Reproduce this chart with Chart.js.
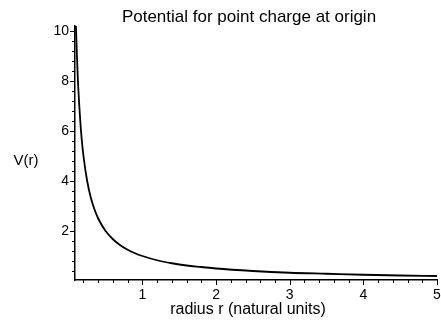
<!DOCTYPE html>
<html>
<head>
<meta charset="utf-8">
<script src="https://cdn.jsdelivr.net/npm/chart.js@4/dist/chart.umd.min.js"></script>
<style>
  html, body { margin: 0; padding: 0; background: #fff; }
  #wrap { width: 441px; height: 320px; }
</style>
</head>
<body>
<div id="wrap"><canvas id="potentialChart"></canvas></div>
<script>
// values
const radius    = [0.098, 0.11, 0.125, 0.15, 0.175, 0.2, 0.25, 0.3, 0.35, 0.4, 0.5, 0.6, 0.7, 0.8, 0.9, 1.0, 1.2, 1.4, 1.6, 1.8, 2.0, 2.5, 3.0, 3.5, 4.0, 4.5, 5.0];
const potential = [10.2, 9.1, 8.0, 6.7, 5.7, 5.0, 4.0, 3.33, 2.86, 2.5, 2.0, 1.67, 1.43, 1.25, 1.11, 1.0, 0.83, 0.71, 0.62, 0.56, 0.5, 0.4, 0.33, 0.29, 0.25, 0.22, 0.2];

const xMajorTicks = [1, 2, 3, 4, 5];
const yMajorTicks = [2, 4, 6, 8, 10];
const xMinorStep = 0.2;
const yMinorStep = 0.4;

const titleText = 'Potential for point charge at origin';
const xLabel = 'radius r (natural units)';
const yLabel = 'V(r)';

const FONT = 'Liberation Sans, Arial, Helvetica, sans-serif';

function tickList(step, max) {
  const out = [];
  for (let k = 1; k * step <= max + 1e-9; k++) out.push(Math.round(k * step * 10) / 10);
  return out;
}

// tick marks (long major, short minor) and the texts, placed like the maple plot
const plotDecor = {
  id: 'plotDecor',
  afterDraw(chart) {
    const { ctx, scales: { x, y } } = chart;
    ctx.save();
    ctx.strokeStyle = '#000';
    ctx.lineWidth = 1;
    x.ticks.forEach(t => {
      const px = Math.round(x.getPixelForValue(t.value)) + 0.5;
      const len = xMajorTicks.includes(t.value) ? 5 : 3;
      ctx.beginPath();
      ctx.moveTo(px, x.top);
      ctx.lineTo(px, x.top + len);
      ctx.stroke();
    });
    y.ticks.forEach(t => {
      const py = Math.round(y.getPixelForValue(t.value)) + 0.5;
      const len = yMajorTicks.includes(t.value) ? 5 : 3;
      ctx.beginPath();
      ctx.moveTo(y.right, py);
      ctx.lineTo(y.right - len, py);
      ctx.stroke();
    });

    ctx.fillStyle = '#000';
    ctx.textAlign = 'center';
    ctx.textBaseline = 'alphabetic';
    ctx.font = '17px ' + FONT;
    ctx.fillText(titleText, 249, 22);
    ctx.font = '16px ' + FONT;
    ctx.fillText(xLabel, 248, 314);
    ctx.font = '15px ' + FONT;
    ctx.fillText(yLabel, 26, 165);
    ctx.restore();
  }
};

new Chart(document.getElementById('potentialChart'), {
  type: 'line',
  data: {
    datasets: [{
      data: radius.map((r, i) => ({ x: r, y: potential[i] })),
      borderColor: '#000',
      borderWidth: 1.8,
      pointRadius: 0,
      cubicInterpolationMode: 'monotone',
      fill: false
    }]
  },
  options: {
    responsive: true,
    maintainAspectRatio: false,
    animation: false,
    layout: { padding: { left: 0, right: 4, top: 26, bottom: 0 } },
    plugins: {
      legend: { display: false },
      tooltip: { enabled: false },
      title: { display: false }
    },
    scales: {
      x: {
        type: 'linear',
        min: 0.085,
        max: 5,
        afterBuildTicks: axis => { axis.ticks = tickList(xMinorStep, 5).map(v => ({ value: v })); },
        afterFit: axis => {
          axis.height = 40;
          axis.paddingLeft = 0;
          axis.paddingRight = 0;
        },
        grid: { display: false, tickLength: 0 },
        border: { display: true, color: '#000', width: 1.5 },
        ticks: {
          autoSkip: false,
          maxRotation: 0,
          padding: 7,
          color: '#000',
          font: { family: FONT, size: 14 },
          callback: v => xMajorTicks.includes(v) ? String(v) : ''
        }
      },
      y: {
        type: 'linear',
        min: 0.04,
        max: 10.2,
        afterBuildTicks: axis => { axis.ticks = tickList(yMinorStep, 10).map(v => ({ value: v })); },
        afterFit: axis => {
          axis.width = 75;
          axis.paddingTop = 0;
          axis.paddingBottom = 0;
        },
        grid: { display: false, tickLength: 0 },
        border: { display: true, color: '#000', width: 1.5 },
        ticks: {
          autoSkip: false,
          padding: 6,
          color: '#000',
          font: { family: FONT, size: 14 },
          callback: v => yMajorTicks.includes(v) ? String(v) : ''
        }
      }
    }
  },
  plugins: [plotDecor]
});
</script>
</body>
</html>
